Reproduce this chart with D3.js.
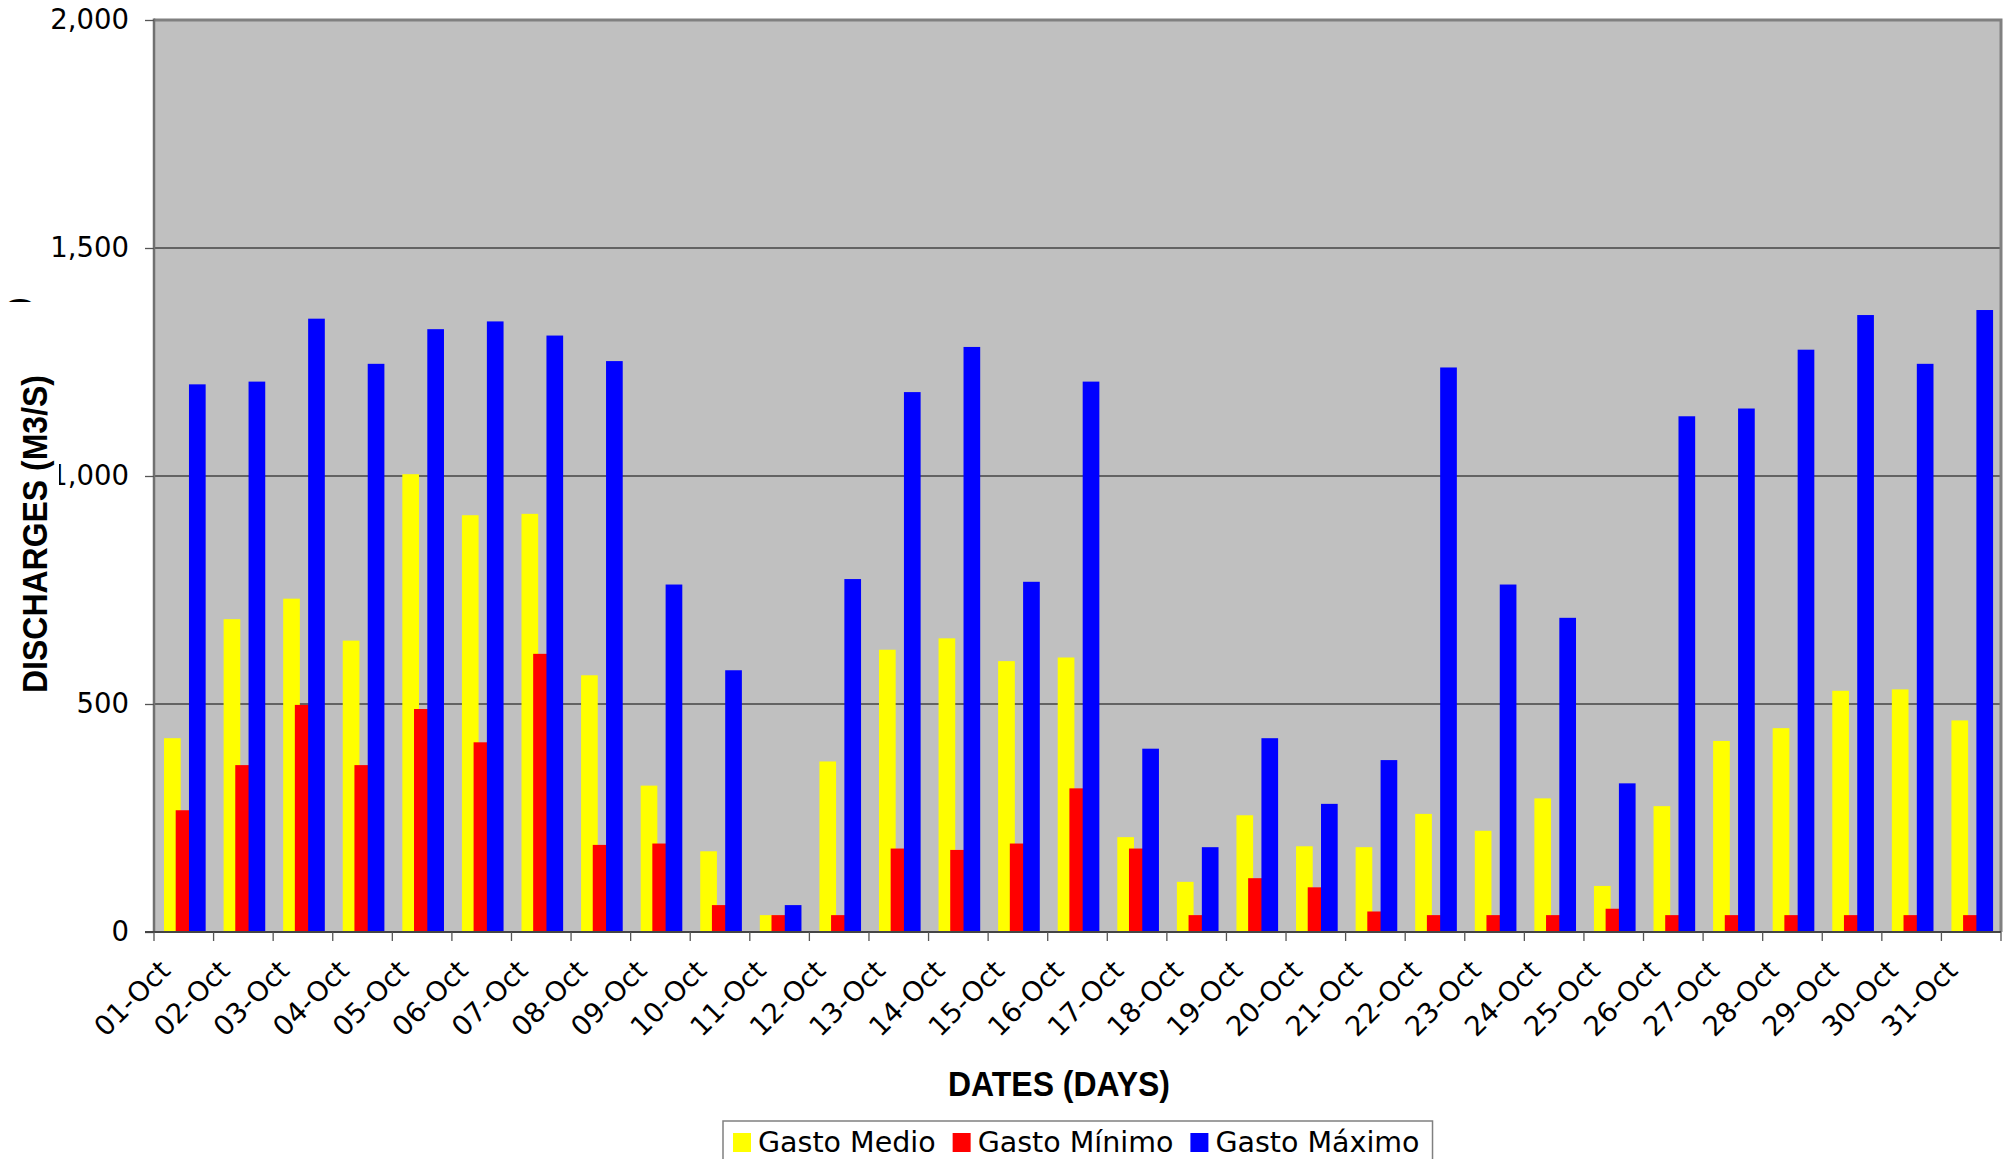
<!DOCTYPE html>
<html>
<head>
<meta charset="utf-8">
<script src="https://cdn.jsdelivr.net/npm/d3@7"></script>
<style>
  body { margin: 0; background: #fff; }
  svg { display: block; }
</style>
</head>
<body>
<svg id="chart"></svg>
<script>
const days = ["01-Oct", "02-Oct", "03-Oct", "04-Oct", "05-Oct", "06-Oct", "07-Oct", "08-Oct",
  "09-Oct", "10-Oct", "11-Oct", "12-Oct", "13-Oct", "14-Oct", "15-Oct", "16-Oct", "17-Oct",
  "18-Oct", "19-Oct", "20-Oct", "21-Oct", "22-Oct", "23-Oct", "24-Oct", "25-Oct", "26-Oct",
  "27-Oct", "28-Oct", "29-Oct", "30-Oct", "31-Oct"]

const gastoMedio = [425, 686, 731, 639, 1004, 914, 917, 563, 321, 177, 37, 374, 619, 644, 594, 602,
  208, 110, 256, 188, 186, 259, 222, 293, 101, 276, 419, 447, 529, 532, 464]
const gastoMinimo = [267, 366, 498, 366, 489, 416, 610, 191, 194, 59, 37, 37, 183, 180, 194, 315,
  183, 37, 118, 98, 45, 37, 37, 37, 51, 37, 37, 37, 37, 37, 37]
const gastoMaximo = [1201, 1207, 1345, 1246, 1322, 1339, 1308, 1252, 762, 574, 59, 774, 1184, 1283, 768, 1207,
  402, 186, 425, 281, 377, 1238, 762, 689, 326, 1131, 1148, 1277, 1353, 1246, 1364]

const seriesNames = ["Gasto Medio", "Gasto Mínimo", "Gasto Máximo"]
const yTicks = [0, 500, 1000, 1500, 2000]

const width = 2009
const height = 1159
const plot = { left: 154, right: 2001, top: 20, bottom: 932 }
const colors = ["#FFFF00", "#FF0000", "#0000FF"]
// each bar's left edge and width as a share of one day slot (bars overlap a little)
const barOffset = [0.168, 0.364, 0.587]
const barWidth = 0.28

const svg = d3.select('#chart')
  .attr('width', width)
  .attr('height', height)

const xScale = d3.scaleBand()
  .domain(days)
  .range([plot.left, plot.right])
  .padding(0)

const yScale = d3.scaleLinear()
  .domain([0, 2000])
  .range([plot.bottom, plot.top])

// plot area
svg.append('rect')
  .attr('x', plot.left)
  .attr('y', plot.top)
  .attr('width', plot.right - plot.left)
  .attr('height', plot.bottom - plot.top)
  .style('fill', '#C0C0C0')

// gridlines
svg.append('g')
  .selectAll('line')
  .data(yTicks.filter(d => d > 0 && d < 2000))
  .enter()
  .append('line')
  .attr('x1', plot.left)
  .attr('x2', plot.right)
  .attr('y1', d => yScale(d))
  .attr('y2', d => yScale(d))
  .style('stroke', '#444')
  .style('stroke-width', 1.3)

// bars
const series = [gastoMedio, gastoMinimo, gastoMaximo]
series.forEach((values, s) => {
  svg.append('g')
    .selectAll('rect')
    .data(values)
    .enter()
    .append('rect')
    .attr('x', (v, i) => xScale(days[i]) + xScale.bandwidth() * barOffset[s])
    .attr('width', xScale.bandwidth() * barWidth)
    .attr('y', v => yScale(v))
    .attr('height', v => yScale(0) - yScale(v))
    .style('fill', colors[s])
})

// border: top and right light, left gray
svg.append('path')
  .attr('d', `M${plot.left},${plot.top}H${plot.right}V${plot.bottom}`)
  .style('fill', 'none')
  .style('stroke', '#808080')
  .style('stroke-width', 3)

svg.append('line')
  .attr('x1', plot.left).attr('x2', plot.left)
  .attr('y1', plot.top - 1.5).attr('y2', plot.bottom)
  .style('stroke', '#707070')
  .style('stroke-width', 2.5)

// y axis
const yAxis = d3.axisLeft(yScale)
  .tickValues(yTicks)
  .tickSize(9)
  .tickPadding(16)
  .tickFormat(d3.format(','))

const yG = svg.append('g')
  .attr('transform', `translate(${plot.left}, 0)`)
  .call(yAxis)
yG.select('.domain').remove()
yG.selectAll('line').style('stroke', '#555').style('stroke-width', 1.3)
yG.selectAll('text')
  .style('font-family', '"DejaVu Sans", Verdana, sans-serif')
  .style('font-size', '27.5px')
  .style('fill', '#000')

// x axis
const xAxis = d3.axisBottom(xScale).tickSize(0).tickFormat('')
const xG = svg.append('g')
  .attr('transform', `translate(0, ${plot.bottom})`)
  .call(xAxis)
xG.select('.domain')
  .attr('d', `M${plot.left - 9},0H${plot.right}`)
  .style('stroke', '#444')
  .style('stroke-width', 2)

xG.selectAll('.boundary')
  .data(days.map(d => xScale(d)).concat([plot.right]))
  .enter()
  .append('line')
  .attr('x1', d => d).attr('x2', d => d)
  .attr('y1', 0).attr('y2', 9)
  .style('stroke', '#555')
  .style('stroke-width', 1.3)

svg.append('g')
  .selectAll('text')
  .data(days)
  .enter()
  .append('text')
  .text(d => d)
  .attr('transform', d => `translate(${xScale(d) + xScale.bandwidth() / 2 - 12}, 972) rotate(-45)`)
  .attr('text-anchor', 'end')
  .style('font-family', '"DejaVu Sans", Verdana, sans-serif')
  .style('font-size', '27.5px')

// stray bracket left over at the upper left
svg.append('text')
  .text(')')
  .attr('transform', 'translate(27, 306) rotate(-90)')
  .attr('text-anchor', 'start')
  .style('font-family', '"Liberation Sans", Arial, sans-serif')
  .style('font-weight', 'bold')
  .style('font-size', '25px')

// axis titles
svg.append('rect')
  .attr('x', 0).attr('y', 302)
  .attr('width', 59).attr('height', 420)
  .style('fill', '#fff')

svg.append('text')
  .text('DISCHARGES (M3/S)')
  .attr('transform', 'translate(47, 534) rotate(-90)')
  .attr('text-anchor', 'middle')
  .attr('textLength', 318)
  .attr('lengthAdjust', 'spacingAndGlyphs')
  .style('font-family', '"Liberation Sans", Arial, sans-serif')
  .style('font-weight', 'bold')
  .style('font-size', '35px')

svg.append('text')
  .text('DATES (DAYS)')
  .attr('x', 1059)
  .attr('y', 1096)
  .attr('text-anchor', 'middle')
  .attr('textLength', 222)
  .attr('lengthAdjust', 'spacingAndGlyphs')
  .style('font-family', '"Liberation Sans", Arial, sans-serif')
  .style('font-weight', 'bold')
  .style('font-size', '35px')

// legend
const legend = svg.append('g')
const legendBox = legend.append('rect')
  .attr('x', 723).attr('y', 1121)
  .attr('height', 60)
  .style('fill', '#fff')
  .style('stroke', '#808080')
  .style('stroke-width', 1.5)

let lx = 733
seriesNames.forEach((name, i) => {
  legend.append('rect')
    .attr('x', lx).attr('y', 1133)
    .attr('width', 18).attr('height', 19)
    .style('fill', colors[i])
  const t = legend.append('text')
    .text(name)
    .attr('x', lx + 25)
    .attr('y', 1152)
    .style('font-family', '"DejaVu Sans", Verdana, sans-serif')
    .style('font-size', '28.5px')
  lx = lx + 25 + t.node().getComputedTextLength() + 17
})
legendBox.attr('width', lx - 723 - 4)
</script>
</body>
</html>
